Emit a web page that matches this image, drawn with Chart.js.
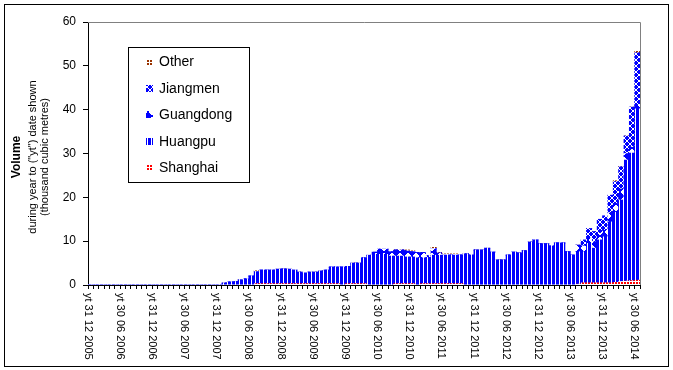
<!DOCTYPE html>
<html>
<head>
<meta charset="utf-8">
<script src="https://cdn.jsdelivr.net/npm/chart.js@4.4.0/dist/chart.umd.min.js"></script>
<style>
  html, body { margin: 0; padding: 0; background: #fff; }
  #chart { display: block; }
</style>
</head>
<body>
<canvas id="chart" width="673" height="370"></canvas>
<script>
// Monthly "year to date" volumes, Dec 2005 .. Jun 2014 (thousand cubic metres)

const tickLabels = [
  'yt 31 12 2005', 'yt 30 06 2006', 'yt 31 12 2006', 'yt 30 06 2007', 'yt 31 12 2007',
  'yt 30 06 2008', 'yt 31 12 2008', 'yt 30 06 2009', 'yt 31 12 2009', 'yt 30 06 2010',
  'yt 31 12 2010', 'yt 30 06 2011', 'yt 31 12 2011', 'yt 30 06 2012', 'yt 31 12 2012',
  'yt 30 06 2013', 'yt 31 12 2013', 'yt 30 06 2014'
];

// one category per month end
const categories = [];
for (let y = 2005, m = 12; y < 2014 || m <= 6; ) {
  const last = new Date(y, m, 0).getDate();
  categories.push(`yt ${last} ${String(m).padStart(2, '0')} ${y}`);
  m++; if (m > 12) { m = 1; y++; }
}

const shanghai = [
  0,
  0, 0, 0, 0, 0, 0, 0, 0, 0, 0, 0, 0,                               // 2006
  0, 0, 0, 0, 0, 0, 0, 0, 0, 0, 0, 0,                               // 2007
  0, 0, 0, 0, 0, 0, 0.3, 0.3, 0.3, 0.3, 0.3, 0.3,                   // 2008
  0.3, 0.3, 0.3, 0.3, 0.3, 0.3, 0.3, 0.3, 0.3, 0.3, 0, 0.3,         // 2009
  0.3, 0.3, 0.3, 0, 0, 0, 0, 0, 0.3, 0.3, 0.3, 0.3,                 // 2010
  0, 0.3, 0.3, 0.3, 0.3, 0.3, 0.3, 0.3, 0.3, 0, 0, 0,               // 2011
  0, 0, 0, 0, 0, 0, 0, 0, 0, 0, 0, 0,                               // 2012
  0, 0, 0, 0, 0, 0, 0.2, 0.5, 0.5, 0.5, 0.5, 0.5,                   // 2013
  0.5, 0.6, 0.8, 0.9, 1.0, 1.1                                      // 2014
];

const huangpu = [
  0,
  0, 0, 0, 0, 0, 0, 0, 0, 0, 0, 0, 0,
  0, 0, 0, 0, 0, 0, 0, 0, 0, 0, 0, 0,
  0.45, 0.7, 0.8, 1.2, 1.4, 2.05, 2.75, 3.1, 3.1, 3.1, 3.3, 3.35,
  3.3, 3.1, 2.65, 2.45, 2.65, 2.65, 2.9, 3.1, 3.8, 3.8, 4.1, 3.95,
  4.7, 4.7, 5.9, 6.8, 7.0, 7.0, 7.0, 6.6, 6.3, 6.3, 6.1, 6.1,
  6.2, 5.9, 6.0, 6.5, 6.5, 6.5, 6.55, 6.5, 6.55, 7.1, 6.85, 8.0,
  8.0, 8.4, 7.5, 5.7, 5.7, 6.85, 7.5, 7.3, 7.8, 9.8, 10.3, 9.4,
  9.4, 8.9, 9.6, 9.6, 7.6, 6.85, 7.4, 7.1, 9.0, 7.9, 9.8, 10.5,
  13.9, 16.0, 18.6, 27.6, 29.1, 39.1
];

const guangdong = [
  0,
  0, 0, 0, 0, 0, 0, 0, 0, 0, 0, 0, 0,
  0, 0, 0, 0, 0, 0, 0, 0, 0, 0, 0, 0,
  0, 0, 0, 0, 0, 0, 0, 0, 0, 0, 0, 0,
  0, 0, 0, 0, 0, 0, 0, 0, 0, 0, 0, 0,
  0, 0, 0, 0, 0.5, 1.2, 1.2, 1.0, 1.4, 1.4, 1.4, 1.2,
  1.2, 1.2, 0.4, 1.5, 0.5, 0, 0, 0, 0, 0, 0, 0,
  0, 0, 0, 0, 0, 0, 0, 0, 0, 0, 0, 0,
  0, 0, 0, 0, 0, 0, 1.5, 1.3, 1.2, 1.5, 1.5, 1.5,
  2.0, 2.0, 2.5, 1.5, 1.5, 0.8
];

const jiangmen = [
  0,
  0, 0, 0, 0, 0, 0, 0, 0, 0, 0, 0, 0,
  0, 0, 0, 0, 0, 0, 0, 0, 0, 0, 0, 0,
  0, 0, 0, 0, 0, 0, 0, 0, 0, 0, 0, 0,
  0, 0, 0, 0, 0, 0, 0, 0, 0, 0, 0, 0,
  0, 0, 0, 0, 0, 0, 0, 0, 0, 0, 0, 0,
  0, 0, 0, 0, 0, 0, 0, 0, 0, 0, 0, 0,
  0, 0, 0, 0, 0, 0, 0, 0, 0, 0, 0, 0,
  0, 0, 0, 0, 0, 0, 0, 1.4, 2.2, 2.3, 3.2, 3.3,
  4.1, 5.0, 5.1, 4.0, 9.0, 12.0
];

const other = [
  0,
  0, 0, 0, 0, 0, 0, 0, 0, 0, 0, 0, 0,
  0, 0, 0, 0, 0, 0, 0, 0, 0, 0, 0, 0,
  0, 0, 0, 0, 0, 0, 0.2, 0, 0, 0, 0, 0,
  0, 0, 0, 0, 0, 0, 0, 0, 0, 0, 0, 0,
  0, 0, 0, 0, 0, 0, 0, 0, 0, 0, 0.2, 0.2,
  0.2, 0.2, 0, 0.3, 0.3, 0.3, 0.25, 0.3, 0, 0, 0, 0,
  0, 0, 0, 0, 0, 0, 0, 0, 0, 0, 0, 0,
  0, 0, 0, 0, 0, 0, 0, 0, 0, 0, 0, 0,
  0, 0.2, 0, 0, 0, 0.3
];

const FONT = '"Liberation Sans", Arial, sans-serif';
Chart.defaults.font.family = FONT;
Chart.defaults.color = '#000';

// ─── Fill patterns (Excel-style) ─────────────────────────────────────────────

const mainCtx = document.getElementById('chart').getContext('2d');

function makePattern(size, paint) {
  const c = document.createElement('canvas');
  c.width = size; c.height = size;
  const g = c.getContext('2d');
  g.fillStyle = '#fff';
  g.fillRect(0, 0, size, size);
  paint(g, size);
  return mainCtx.createPattern(c, 'repeat');
}

const patterns = {
  shanghai: makePattern(3, g => { g.fillStyle = '#FF0000'; g.fillRect(0, 0, 2, 2); }),
  other:    makePattern(3, g => { g.fillStyle = '#993300'; g.fillRect(0, 0, 2, 2); }),
  huangpu:  makePattern(4, g => { g.fillStyle = '#0000FF'; g.fillRect(0, 0, 3, 4); }),
  jiangmen: makePattern(6, (g, n) => {
    g.fillStyle = '#0000FF';
    for (let px = 0; px < n; px++)
      for (let py = 0; py < n; py++)
        if (px !== py && px + py !== n - 1) g.fillRect(px, py, 1, 1);
  }),
  guangdong: makePattern(8, g => {
    g.fillStyle = '#0000FF';
    for (let px = 0; px < 8; px++)
      for (let py = 0; py < 8; py++)
        if (Math.abs(px - 3.5) + Math.abs(py - 3.5) <= 4.5) g.fillRect(px, py, 1, 1);
  }),
};

// ─── Decorations: frame, rotated labels, axis title, legend ──────────────────

const decor = {
  id: 'decor',
  afterDraw(chart) {
    const { ctx, chartArea: a, scales: { x } } = chart;
    ctx.save();

    ctx.strokeStyle = '#000';
    ctx.lineWidth = 1;
    ctx.strokeRect(4.5, 4.5, 664, 362);

    ctx.strokeStyle = '#808080';
    ctx.beginPath();
    ctx.moveTo(a.left, a.top + 0.5);
    ctx.lineTo(a.right + 0.5, a.top + 0.5);
    ctx.lineTo(a.right + 0.5, a.bottom);
    ctx.stroke();

    // x labels, reading top to bottom
    ctx.fillStyle = '#000';
    ctx.font = `11px ${FONT}`;
    ctx.textAlign = 'left';
    ctx.textBaseline = 'middle';
    tickLabels.forEach(lbl => {
      const i = categories.indexOf(lbl);
      if (i < 0) return;
      ctx.save();
      ctx.translate(x.getPixelForValue(i) - 3, 293);
      ctx.rotate(Math.PI / 2);
      ctx.fillText(lbl, 0, 0);
      ctx.restore();
    });

    // y axis title
    const cy = 157;
    ctx.textAlign = 'center';
    ctx.save();
    ctx.translate(17, cy); ctx.rotate(-Math.PI / 2);
    ctx.font = `bold 12px ${FONT}`;
    ctx.fillText('Volume', 0, 0);
    ctx.restore();
    ctx.font = `11px ${FONT}`;
    ctx.save();
    ctx.translate(33, cy); ctx.rotate(-Math.PI / 2);
    ctx.fillText('during year to ("yt") date shown', 0, 0);
    ctx.restore();
    ctx.save();
    ctx.translate(45, cy); ctx.rotate(-Math.PI / 2);
    ctx.fillText('(thousand cubic metres)', 0, 0);
    ctx.restore();

    // legend box
    ctx.fillStyle = '#fff';
    ctx.fillRect(129, 48, 120, 134);
    ctx.strokeStyle = '#000';
    ctx.strokeRect(128.5, 47.5, 121, 135);
    const items = chart.data.datasets.slice().reverse();
    ctx.textAlign = 'left';
    ctx.font = `14px ${FONT}`;
    items.forEach((ds, k) => {
      const ry = 61.5 + k * 26.4;
      ctx.fillStyle = ds.backgroundColor;
      ctx.fillRect(146, Math.round(ry) - 3, 7, 7);
      ctx.fillStyle = '#000';
      ctx.fillText(ds.label, 159, ry + 1);
    });

    ctx.restore();
  }
};

// ─── Chart ───────────────────────────────────────────────────────────────────

new Chart(mainCtx, {
  type: 'bar',
  data: {
    labels: categories,
    datasets: [
      { label: 'Shanghai',  data: shanghai,  backgroundColor: patterns.shanghai },
      { label: 'Huangpu',   data: huangpu,   backgroundColor: patterns.huangpu },
      { label: 'Guangdong', data: guangdong, backgroundColor: patterns.guangdong },
      { label: 'Jiangmen',  data: jiangmen,  backgroundColor: patterns.jiangmen },
      { label: 'Other',     data: other,     backgroundColor: patterns.other },
    ],
  },
  options: {
    responsive: false,
    animation: false,
    layout: { padding: { left: 0, top: 22, right: 33, bottom: 0 } },
    datasets: { bar: { barPercentage: 1, categoryPercentage: 1, borderWidth: 0 } },
    plugins: { legend: { display: false }, tooltip: { enabled: false } },
    scales: {
      x: {
        stacked: true,
        offset: true,
        grid: { offset: true, drawOnChartArea: false, tickLength: 4, color: '#000' },
        border: { color: '#000' },
        ticks: { display: false },
        afterFit: s => { s.height = 85; },
      },
      y: {
        stacked: true,
        min: 0,
        max: 60,
        ticks: { stepSize: 10, padding: 7, color: '#000', font: { size: 12 } },
        grid: { drawOnChartArea: false, tickLength: 5, color: '#000' },
        border: { color: '#000' },
        afterFit: s => { s.width = 88; },
      },
    },
  },
  plugins: [decor],
});
</script>
</body>
</html>
